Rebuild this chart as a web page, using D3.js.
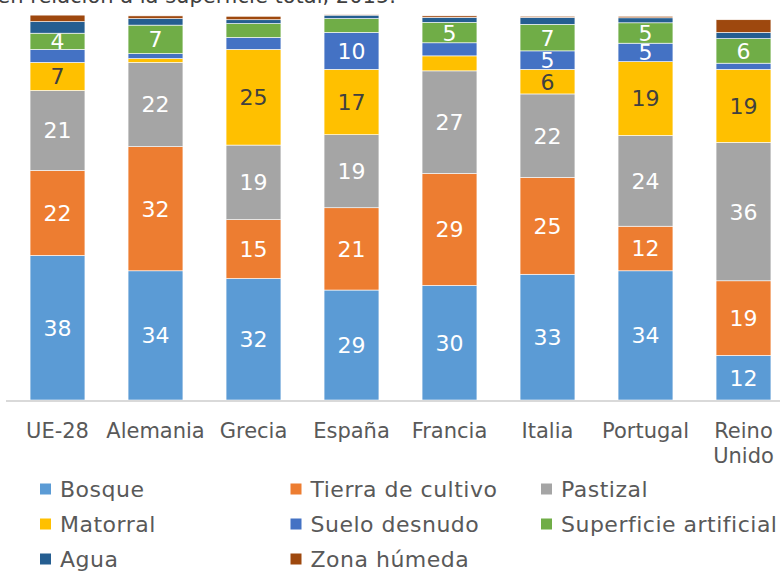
<!DOCTYPE html>
<html>
<head>
<meta charset="utf-8">
<script src="https://cdn.jsdelivr.net/npm/d3@7"></script>
<style>
  body { margin: 0; background: #fff; }
  svg { display: block; font-family: "DejaVu Sans", Verdana, sans-serif; }
</style>
</head>
<body>
<svg id="chart" width="780" height="572"></svg>
<script>
// countries (x axis), "Reino Unido" is split on two lines
var paises = ["UE-28", "Alemania", "Grecia", "España", "Francia", "Italia", "Portugal", "Reino Unido"];

// % of total surface
var bosque     = [37.6, 33.6, 31.6, 28.6, 29.8, 32.7, 33.6, 11.6];
var cultivo    = [22.1, 32.3, 15.3, 21.4, 29.1, 25.2, 11.6, 19.4];
var pastizal   = [20.8, 21.9, 19.4, 19.0, 26.7, 21.7, 23.6, 36.0];
var matorral   = [7.3, 1.0, 24.9, 17.0, 3.9, 6.4, 19.2, 19.0];
var suelo      = [3.4, 1.3, 3.1, 9.6, 3.4, 4.8, 4.8, 1.6];
var artificial = [4.2, 7.4, 3.6, 3.6, 5.3, 6.9, 5.3, 6.4];
var agua       = [3.0, 1.7, 1.0, 0.9, 1.3, 1.8, 1.3, 1.6];
var humeda     = [1.7, 0.7, 0.9, 0.1, 0.4, 0.3, 0.4, 3.3];

var series = ["Bosque", "Tierra de cultivo", "Pastizal", "Matorral", "Suelo desnudo", "Superficie artificial", "Agua", "Zona húmeda"];
var colores = ["#5B9BD5", "#ED7D31", "#A5A5A5", "#FFC000", "#4472C4", "#70AD47", "#255E91", "#9E480E"];

var valores = [bosque, cultivo, pastizal, matorral, suelo, artificial, agua, humeda];

// build rows for d3.stack
var filas = paises.map(function(p, i) {
  var o = { pais: p };
  series.forEach(function(s, j) { o[s] = valores[j][i]; });
  return o;
});

var svg = d3.select("#chart");

var x = d3.scaleBand()
    .domain(paises)
    .range([8.5, 792.5])
    .paddingInner(0.44)
    .paddingOuter(0.22);

var y = d3.scaleLinear()
    .domain([0, 100])
    .range([400, 15.5]);

var color = d3.scaleOrdinal().domain(series).range(colores);

var stack = d3.stack().keys(series)(filas);

// title, mostly cut off by the top of the frame
svg.append("text")
    .attr("x", 396)
    .attr("y", 3)
    .attr("text-anchor", "end")
    .attr("font-size", 21)
    .attr("fill", "#404040")
    .text("Cobertura del suelo en relación a la superficie total, 2015.");

var capas = svg.selectAll("g.capa")
    .data(stack)
  .enter().append("g")
    .attr("class", "capa")
    .attr("fill", function(d) { return color(d.key); });

capas.selectAll("rect")
    .data(function(d) { return d; })
  .enter().append("rect")
    .attr("x", function(d) { return x(d.data.pais); })
    .attr("width", x.bandwidth())
    .attr("y", function(d) { return y(d[1]); })
    .attr("height", function(d) { return y(d[0]) - y(d[1]); })
    .attr("stroke", "#fff")
    .attr("stroke-width", 0.6);

// data labels, only on the bigger segments
capas.selectAll("text")
    .data(function(d) { return d.map(function(v) { v.key = d.key; return v; }); })
  .enter().filter(function(d) { return d[1] - d[0] >= 4; })
  .append("text")
    .attr("x", function(d) { return x(d.data.pais) + x.bandwidth() / 2; })
    .attr("y", function(d) { return (y(d[0]) + y(d[1])) / 2; })
    .attr("dy", "0.36em")
    .attr("text-anchor", "middle")
    .attr("font-size", 22)
    .attr("fill", function(d) { return d.key == "Matorral" ? "#404040" : "#fff"; })
    .text(function(d) { return Math.round(d[1] - d[0]); });

// x axis
var xAxis = g => g
    .attr("transform", "translate(0,400)")
    .call(d3.axisBottom(x).tickSize(0).tickSizeOuter(0).tickFormat(""))
    .call(g => g.select(".domain").attr("stroke", "#D9D9D9").attr("stroke-width", 2)
        .attr("d", "M6,1H780"));

svg.append("g").call(xAxis);

var etiquetas = svg.append("g")
    .attr("font-size", 21)
    .attr("fill", "#595959")
    .attr("text-anchor", "middle");

paises.forEach(function(p) {
  var partes = p == "Reino Unido" ? ["Reino", "Unido"] : [p];
  partes.forEach(function(t, k) {
    etiquetas.append("text")
        .attr("x", x(p) + x.bandwidth() / 2)
        .attr("y", 438 + k * 25)
        .text(t);
  });
});

// legend, 3 columns
var leyenda = svg.append("g")
    .attr("font-size", 22)
    .attr("letter-spacing", 0.5)
    .attr("fill", "#595959");

series.forEach(function(s, i) {
  var col = i % 3, row = Math.floor(i / 3);
  var gx = 40 + col * 250.5, gy = 489 + row * 35;
  leyenda.append("rect")
      .attr("x", gx)
      .attr("y", gy - 5.5)
      .attr("width", 11)
      .attr("height", 11)
      .attr("fill", color(s));
  leyenda.append("text")
      .attr("x", gx + 20)
      .attr("y", gy)
      .attr("dy", "0.36em")
      .text(s);
});
</script>
</body>
</html>
